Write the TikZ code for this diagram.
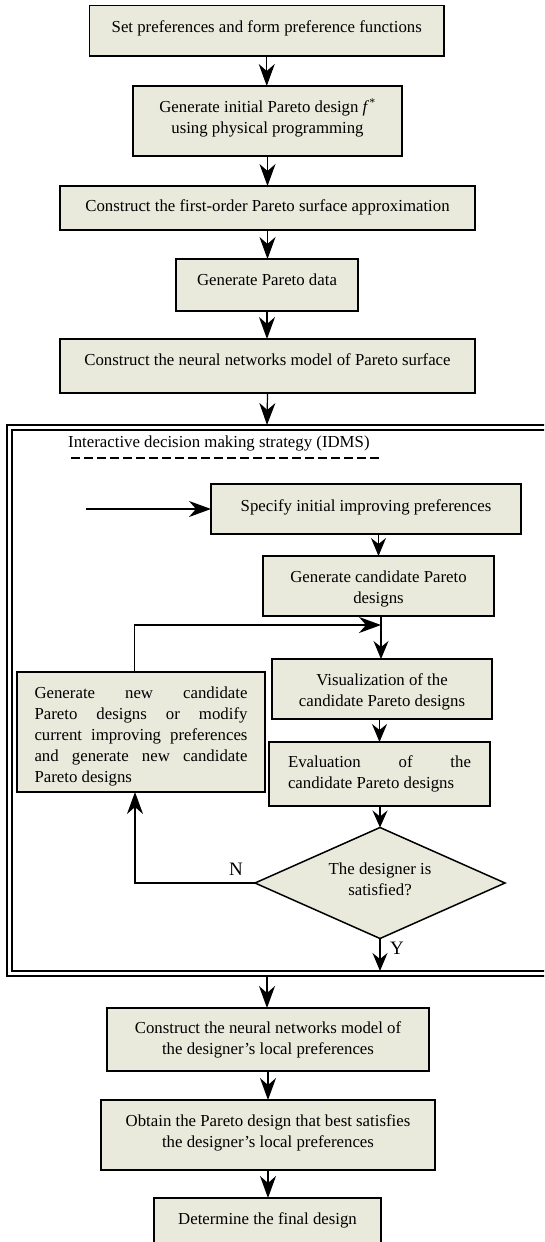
\documentclass[tikz,border=0pt]{standalone}
\usepackage{fontspec}
\setmainfont{Liberation Serif}
\usetikzlibrary{arrows.meta,shapes.geometric}
\definecolor{boxfill}{RGB}{234,234,220}
\newcommand\lowpad[1]{\rule[-#1]{0pt}{#1}}
\newcommand\toppad[1]{\rule{0pt}{#1}}
\tikzset{
  base/.style={draw=black, line width=1.5pt, fill=boxfill, outer sep=0pt,
    font={\fontsize{16.8}{21}\selectfont\tolerance=10000\hbadness=10000},
    inner sep=2pt, align=center},
  just/.style={base, align=justify, inner xsep=17pt},
  conn/.style={line width=1.2pt, -{Stealth[length=22pt,width=16pt,inset=7pt]}},
  sconn/.style={line width=1.2pt, -{Stealth[length=18pt,width=15pt,inset=6pt]}},
  lab/.style={font=\fontsize{16.8}{21}\selectfont, inner sep=0pt},
  yn/.style={font=\fontsize{19}{21}\selectfont, inner sep=0pt},
}
\begin{document}
\begin{tikzpicture}[x=1pt,y=-1pt]
\clip (0,0) rectangle (544,1242);
% main chain
\node[base, minimum width=354.5pt, minimum height=50.5pt] (b1) at (266.75,30.75)
  {Set preferences and form preference functions\lowpad{9.2pt}};
\node[base, minimum width=269pt, minimum height=70pt] (b2) at (267.5,121)
  {Generate initial Pareto design \textit{f}\textsuperscript{*}\\using physical programming\lowpad{9.7pt}};
\node[base, minimum width=415pt, minimum height=44pt] (b3) at (267.5,208)
  {Construct the first-order Pareto surface approximation\lowpad{5.7pt}};
\node[base, minimum width=182pt, minimum height=52pt] (b4) at (267,285)
  {Generate Pareto data\lowpad{9.7pt}};
\node[base, minimum width=415pt, minimum height=54pt] (b5) at (267.5,366)
  {Construct the neural networks model of Pareto surface\lowpad{13.7pt}};
% frame
\draw[line width=2pt] (550,425) -- (7,425) -- (7,976) -- (550,976);
\draw[line width=1.2pt] (550,430) -- (12,430) -- (12,971) -- (550,971);
\coordinate (ftop) at (267,425);
\coordinate (fbot) at (267,976);
\coordinate (fbin) at (380,971);
\node[lab, anchor=west] (idms) at (68,443) {Interactive decision making strategy (IDMS)};
\coordinate (dsA) at (71,458);
\coordinate (dsB) at (381,458);
\draw[line width=2pt, dash pattern=on 9pt off 4pt] (dsA) -- (dsB);
% inner nodes
\node[base, minimum width=310pt, minimum height=50pt] (spec) at (366,509)
  {Specify initial improving preferences\lowpad{7.7pt}};
\node[base, minimum width=231pt, minimum height=60pt] (gc) at (378.5,586)
  {\toppad{16.7pt}Generate candidate Pareto\\designs};
\node[base, minimum width=220pt, minimum height=60pt] (vis) at (382,689)
  {\toppad{16.7pt}Visualization of the\\candidate Pareto designs};
\node[just, text width=183pt, inner xsep=2pt, minimum width=221pt, minimum height=64pt] (ev) at (379.5,774)
  {Evaluation of the\linebreak candidate Pareto designs};
\node[just, text width=213pt, minimum width=248pt, minimum height=120pt] (lb) at (141,732)
  {\toppad{19.7pt}Generate new candidate\linebreak Pareto designs or modify\linebreak current improving preferences\linebreak and generate new candidate\linebreak Pareto designs};
\node[base, shape=diamond, aspect=2.25, inner sep=0pt, minimum width=250pt, minimum height=111pt] (dm) at (380,883)
  {The designer is\\satisfied?\lowpad{6.7pt}};
% lower chain
\node[base, minimum width=322pt, minimum height=63pt] (nnl) at (268,1039.5)
  {Construct the neural networks model of\\the designer’s local preferences};
\node[base, minimum width=334pt, minimum height=70pt] (obt) at (268,1135)
  {Obtain the Pareto design that best satisfies\\the designer’s local preferences\lowpad{8.7pt}};
\node[base, minimum width=227pt, minimum height=52pt] (fin) at (267.5,1224)
  {Determine the final design\lowpad{11.7pt}};
% connectors
\draw[conn] (b1.south) -- (b1.south |- b2.north);
\draw[conn] (b2.south) -- (b2.south |- b3.north);
\draw[conn] (b3.south) -- (b3.south |- b4.north);
\draw[conn] (b4.south) -- (b4.south |- b5.north);
\draw[conn] (b5.south) -- (ftop);
\coordinate (entry) at (86,509);
\draw[conn] (entry) -- (spec.west);
\draw[sconn] (gc.north |- spec.south) -- (gc.north);
\coordinate (j) at (381,625);
\draw[line width=1.2pt] (j |- gc.south) -- (j);
\draw[sconn] (j) -- (j |- vis.north);
\coordinate (lt) at (134.5,672);
\draw[conn] (lt) |- (j);
\draw[sconn] (ev.north |- vis.south) -- (ev.north);
\draw[line width=1.2pt, -{Stealth[length=17pt,width=15pt,inset=6pt]}] (dm.north |- ev.south) -- (dm.north);
\coordinate (lbot) at (135,792);
\draw[conn] (dm.west) -| (lbot);
\node[yn] (nl) at (236,869) {N};
\draw[sconn] (dm.south) -- (fbin);
\node[yn] (yl) at (397,948) {Y};
\draw[conn] (fbot) -- (fbot |- nnl.north);
\draw[conn] (nnl.south) -- (nnl.south |- obt.north);
\draw[conn] (obt.south) -- (obt.south |- fin.north);
\end{tikzpicture}
\end{document}
